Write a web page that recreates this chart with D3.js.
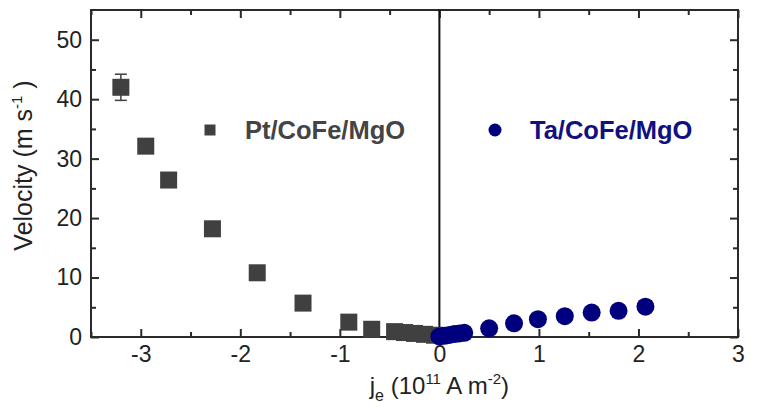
<!DOCTYPE html>
<html>
<head>
<meta charset="utf-8">
<script src="https://cdn.jsdelivr.net/npm/d3@7/dist/d3.min.js"></script>
<style>
  html, body { margin: 0; padding: 0; background: #fff; }
  svg { display: block; font-family: "Liberation Sans", Arial, sans-serif; }
</style>
</head>
<body>
<svg id="chart" width="759" height="414"></svg>
<script>
// ---- data ----
const ptX = [-3.20, -2.95, -2.72, -2.28, -1.83, -1.37, -0.91, -0.68, -0.45, -0.35, -0.25, -0.15, -0.05];
const ptY = [42.0, 32.1, 26.4, 18.2, 10.8, 5.7, 2.5, 1.3, 0.9, 0.75, 0.6, 0.45, 0.3];
const ptErr = [2.2, 0, 0, 0, 0, 0, 0, 0, 0, 0, 0, 0, 0];
const taX = [0.00, 0.05, 0.10, 0.15, 0.20, 0.25, 0.50, 0.75, 0.99, 1.26, 1.53, 1.80, 2.07];
const taY = [0.1, 0.2, 0.35, 0.5, 0.6, 0.7, 1.46, 2.3, 3.0, 3.5, 4.1, 4.4, 5.1];
const xTicks = [-3, -2, -1, 0, 1, 2, 3];
const xMinor = [-3.5, -2.5, -1.5, -0.5, 0.5, 1.5, 2.5];
const yTicks = [0, 10, 20, 30, 40, 50];
const yMinor = [5, 15, 25, 35, 45];
const seriesNames = ["Pt/CoFe/MgO", "Ta/CoFe/MgO"];

const svg = d3.select("#chart");
const L = 91, R = 738, T = 10, B = 337;
const x = d3.scaleLinear().domain([-3.5, 3]).range([L, R]);
const y = d3.scaleLinear().domain([0, 55]).range([B, T]);

const gray = "#404040", navy = "#00007f", axisCol = "#2a2a2a";
const fmt = d => String(d);

function styleAxis(g) {
  g.select(".domain").remove();
  g.selectAll(".tick line").attr("stroke", axisCol).attr("stroke-width", 2);
  g.selectAll(".tick text").attr("fill", "#222").style("font-size", "23px")
    .style("font-family", '"Liberation Sans", Arial, sans-serif');
}

// major & minor ticks on all four sides (inward)
svg.append("g").attr("transform", `translate(0,${B})`)
  .call(d3.axisBottom(x).tickValues(xTicks).tickSize(-8).tickPadding(9).tickFormat(fmt))
  .call(styleAxis);
svg.append("g").attr("transform", `translate(0,${B})`)
  .call(d3.axisBottom(x).tickValues(xMinor).tickSize(-5).tickFormat(""))
  .call(styleAxis);
svg.append("g").attr("transform", `translate(0,${T})`)
  .call(d3.axisTop(x).tickValues(xTicks).tickSize(-8).tickFormat(""))
  .call(styleAxis);
svg.append("g").attr("transform", `translate(0,${T})`)
  .call(d3.axisTop(x).tickValues(xMinor).tickSize(-5).tickFormat(""))
  .call(styleAxis);
svg.append("g").attr("transform", `translate(${L},0)`)
  .call(d3.axisLeft(y).tickValues(yTicks).tickSize(-8).tickPadding(9).tickFormat(fmt))
  .call(styleAxis);
svg.append("g").attr("transform", `translate(${L},0)`)
  .call(d3.axisLeft(y).tickValues(yMinor).tickSize(-5).tickFormat(""))
  .call(styleAxis);
svg.append("g").attr("transform", `translate(${R},0)`)
  .call(d3.axisRight(y).tickValues(yTicks).tickSize(-8).tickFormat(""))
  .call(styleAxis);
svg.append("g").attr("transform", `translate(${R},0)`)
  .call(d3.axisRight(y).tickValues(yMinor).tickSize(-5).tickFormat(""))
  .call(styleAxis);

// frame
svg.append("rect").attr("x", L).attr("y", T).attr("width", R - L).attr("height", B - T)
  .attr("fill", "none").attr("stroke", axisCol).attr("stroke-width", 2);

// zero line
svg.append("line").attr("x1", x(0)).attr("x2", x(0)).attr("y1", T).attr("y2", B)
  .attr("stroke", "#111").attr("stroke-width", 2);

// error bars
const ptData = ptX.map((v, i) => ({ x: v, y: ptY[i], e: ptErr[i] }));
const errG = svg.append("g").attr("stroke", gray).attr("stroke-width", 1.5);
ptData.filter(d => d.e > 0).forEach(d => {
  errG.append("line").attr("x1", x(d.x)).attr("x2", x(d.x)).attr("y1", y(d.y - d.e)).attr("y2", y(d.y + d.e));
  errG.append("line").attr("x1", x(d.x) - 6).attr("x2", x(d.x) + 6).attr("y1", y(d.y - d.e)).attr("y2", y(d.y - d.e));
  errG.append("line").attr("x1", x(d.x) - 6).attr("x2", x(d.x) + 6).attr("y1", y(d.y + d.e)).attr("y2", y(d.y + d.e));
});

// squares
const S = 17;
svg.append("g").selectAll("rect").data(ptData).join("rect")
  .attr("x", d => x(d.x) - S / 2).attr("y", d => y(d.y) - S / 2)
  .attr("width", S).attr("height", S).attr("fill", gray);

// circles
const taData = taX.map((v, i) => ({ x: v, y: taY[i] }));
svg.append("g").selectAll("circle").data(taData).join("circle")
  .attr("cx", d => x(d.x)).attr("cy", d => y(d.y)).attr("r", 9).attr("fill", navy);

// legend
svg.append("rect").attr("x", 210 - 5.5).attr("y", 130 - 5.5).attr("width", 11).attr("height", 11).attr("fill", gray);
svg.append("text").attr("x", 245).attr("y", 139).attr("fill", "#444")
  .style("font-size", "25.5px").style("font-weight", "bold").text(seriesNames[0]);
svg.append("circle").attr("cx", 495).attr("cy", 130).attr("r", 6.5).attr("fill", navy);
svg.append("text").attr("x", 530).attr("y", 139).attr("fill", "#101080")
  .style("font-size", "25.5px").style("font-weight", "bold").text(seriesNames[1]);

// axis titles
const yt = svg.append("text").attr("transform", `translate(32,${(T + B) / 2 - 8}) rotate(-90)`)
  .attr("text-anchor", "middle").attr("fill", "#222").style("font-size", "25px");
yt.append("tspan").text("Velocity (m s");
yt.append("tspan").attr("dy", -10).style("font-size", "15px").text("-1");
yt.append("tspan").attr("dy", 10).text(" )");

const xt = svg.append("text").attr("x", x(0)).attr("y", 394)
  .attr("text-anchor", "middle").attr("fill", "#222").style("font-size", "24px");
xt.append("tspan").text("j");
xt.append("tspan").attr("dy", 7).style("font-size", "16px").text("e");
xt.append("tspan").attr("dy", -7).text(" (10");
xt.append("tspan").attr("dy", -10).style("font-size", "15px").text("11");
xt.append("tspan").attr("dy", 10).text(" A m");
xt.append("tspan").attr("dy", -10).style("font-size", "15px").text("-2");
xt.append("tspan").attr("dy", 10).text(")");
</script>
</body>
</html>
